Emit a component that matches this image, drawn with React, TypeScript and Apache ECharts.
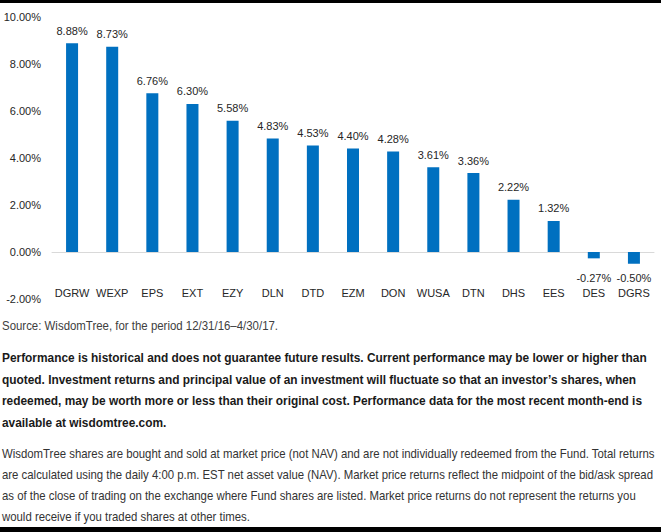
import React, { useEffect, useRef } from "react";
import * as echarts from "echarts";

// Fund tickers and their total returns (%), 12/31/16–4/30/17
const categories = ["DGRW", "WEXP", "EPS", "EXT", "EZY", "DLN", "DTD", "EZM", "DON", "WUSA", "DTN", "DHS", "EES", "DES", "DGRS"];
const returns = [8.88, 8.73, 6.76, 6.3, 5.58, 4.83, 4.53, 4.4, 4.28, 3.61, 3.36, 2.22, 1.32, -0.27, -0.5];

// Value axis range (percent)
const yMin = -2;
const yMax = 10;
const yStep = 2;

const sourceNote = "Source: WisdomTree, for the period 12/31/16–4/30/17.";
const performanceLines = [
  "Performance is historical and does not guarantee future results. Current performance may be lower or higher than",
  "quoted. Investment returns and principal value of an investment will fluctuate so that an investor’s shares, when",
  "redeemed, may be worth more or less than their original cost. Performance data for the most recent month-end is",
  "available at wisdomtree.com.",
];
const pricingLines = [
  "WisdomTree shares are bought and sold at market price (not NAV) and are not individually redeemed from the Fund. Total returns",
  "are calculated using the daily 4:00 p.m. EST net asset value (NAV). Market price returns reflect the midpoint of the bid/ask spread",
  "as of the close of trading on the exchange where Fund shares are listed. Market price returns do not represent the returns you",
  "would receive if you traded shares at other times.",
];

const W = 661;
const H = 532;
const CHART_FONT = "'Liberation Sans', Arial, sans-serif";
const TEXT_FONT = "'Liberation Sans', Arial, sans-serif";

function measure(text: string, font: string): number {
  const ctx = document.createElement("canvas").getContext("2d");
  if (!ctx) return text.length * 6;
  ctx.font = font;
  return ctx.measureText(text).width;
}

export default function App() {
  const ref = useRef<HTMLDivElement>(null);

  useEffect(() => {
    if (!ref.current) return;
    const chart = echarts.init(ref.current, undefined, { renderer: "svg" });

    // horizontal compression so each paragraph fills the page width
    const boldFont = `bold 13px ${TEXT_FONT}`;
    const regFont = `12px ${TEXT_FONT}`;
    const boldScale = 646 / measure(performanceLines[0], boldFont);
    const regScale = 653 / measure(pricingLines[0], regFont);
    const srcScale = 276 / measure(sourceNote, regFont);

    const textLine = (text: string, y: number, scale: number, size: number, weight: string, color: string) => ({
      type: "text",
      x: 2,
      y,
      scaleX: scale,
      originX: 0,
      silent: true,
      style: {
        text,
        fontSize: size,
        fontWeight: weight,
        fontFamily: TEXT_FONT,
        fill: color,
        verticalAlign: "middle",
        align: "left",
      },
    });

    const graphics: any[] = [
      { type: "rect", shape: { x: 0, y: 0, width: W, height: 3 }, style: { fill: "#000" }, silent: true },
      { type: "rect", shape: { x: 0, y: 527, width: W, height: 5 }, style: { fill: "#000" }, silent: true },
      textLine(sourceNote, 325, srcScale, 12, "normal", "#404040"),
      ...performanceLines.map((t, i) => textLine(t, 358 + i * 21.5, boldScale, 13, "bold", "#1a1a1a")),
      ...pricingLines.map((t, i) => textLine(t, 453 + i * 21, regScale, 12, "normal", "#333333")),
    ];

    chart.setOption({
      animation: false,
      backgroundColor: "#ffffff",
      grid: { left: 52, right: 7, top: 17, height: 282, containLabel: false },
      xAxis: {
        type: "category",
        data: categories,
        axisLine: { onZero: true, lineStyle: { color: "#d9d9d9", width: 1 } },
        axisTick: { show: false },
        axisLabel: { color: "#262626", fontSize: 11, fontFamily: CHART_FONT, margin: -12, interval: 0 },
      },
      yAxis: {
        type: "value",
        min: yMin,
        max: yMax,
        interval: yStep,
        splitLine: { show: false },
        axisLine: { show: false },
        axisTick: { show: false },
        axisLabel: {
          color: "#262626",
          fontSize: 11,
          fontFamily: CHART_FONT,
          margin: 11,
          formatter: (v: number) => v.toFixed(2) + "%",
        },
      },
      series: [
        {
          type: "bar",
          barWidth: 12,
          itemStyle: { color: "#0070C0" },
          data: returns.map((v) => ({
            value: v,
            label: v < 0 ? { position: "insideTop", distance: 20 } : { position: "top", distance: 7 },
          })),
          label: {
            show: true,
            color: "#262626",
            fontSize: 11,
            fontFamily: CHART_FONT,
            formatter: (p: any) => p.value.toFixed(2) + "%",
          },
        },
      ],
      graphic: graphics,
    });

    return () => chart.dispose();
  }, []);

  return <div ref={ref} style={{ position: "absolute", left: 0, top: 0, width: W, height: H }} />;
}
